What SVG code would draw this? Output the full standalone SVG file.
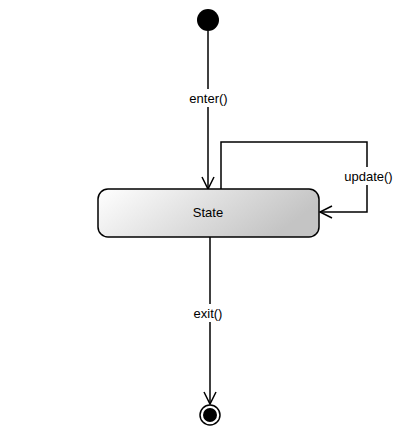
<svg xmlns="http://www.w3.org/2000/svg" width="412" height="436" viewBox="0 0 412 436">
<defs>
<linearGradient id="g" x1="0" y1="0" x2="1" y2="0.3">
<stop offset="0" stop-color="#ffffff"/>
<stop offset="1" stop-color="#c4c4c4"/>
</linearGradient>
<marker id="arr" markerWidth="16" markerHeight="16" refX="13" refY="7" orient="auto" markerUnits="userSpaceOnUse">
<path d="M1,1 L13,7 L1,13" fill="none" stroke="#000" stroke-width="1.5"/>
</marker>
</defs>
<style>
.ln{fill:none;stroke:#000;stroke-width:1.5}
.lbl{font-family:"Liberation Sans",Arial,sans-serif;font-size:13px;fill:#000;text-anchor:middle}
.bg{fill:#fff}
</style>
<rect width="412" height="436" fill="#fff"/>
<g id="connectors">
<path class="ln" d="M208,31 L208,189" marker-end="url(#arr)"/>
<rect class="bg" x="186" y="89" width="45" height="18"/>
<text class="lbl" x="208.5" y="103">enter()</text>
<path class="ln" d="M221,189 L221,142 L367,142 L367,212 L320,212" marker-end="url(#arr)"/>
<rect class="bg" x="342" y="167" width="53" height="18"/>
<text class="lbl" x="368.5" y="181">update()</text>
<path class="ln" d="M210,237 L210,404" marker-end="url(#arr)"/>
<rect class="bg" x="190" y="304" width="36" height="18"/>
<text class="lbl" x="208" y="318">exit()</text>
</g>
<g id="initial">
<circle cx="208" cy="20" r="11" fill="#000"/>
</g>
<g id="state">
<rect x="98" y="189" width="221" height="48" rx="10" ry="10" fill="url(#g)" stroke="#000" stroke-width="1.5"/>
<text class="lbl" x="208" y="217">State</text>
</g>
<g id="final">
<circle cx="210" cy="415" r="10" fill="#fff" stroke="#000" stroke-width="1.5"/>
<circle cx="210" cy="415" r="7" fill="#000"/>
</g>
</svg>
